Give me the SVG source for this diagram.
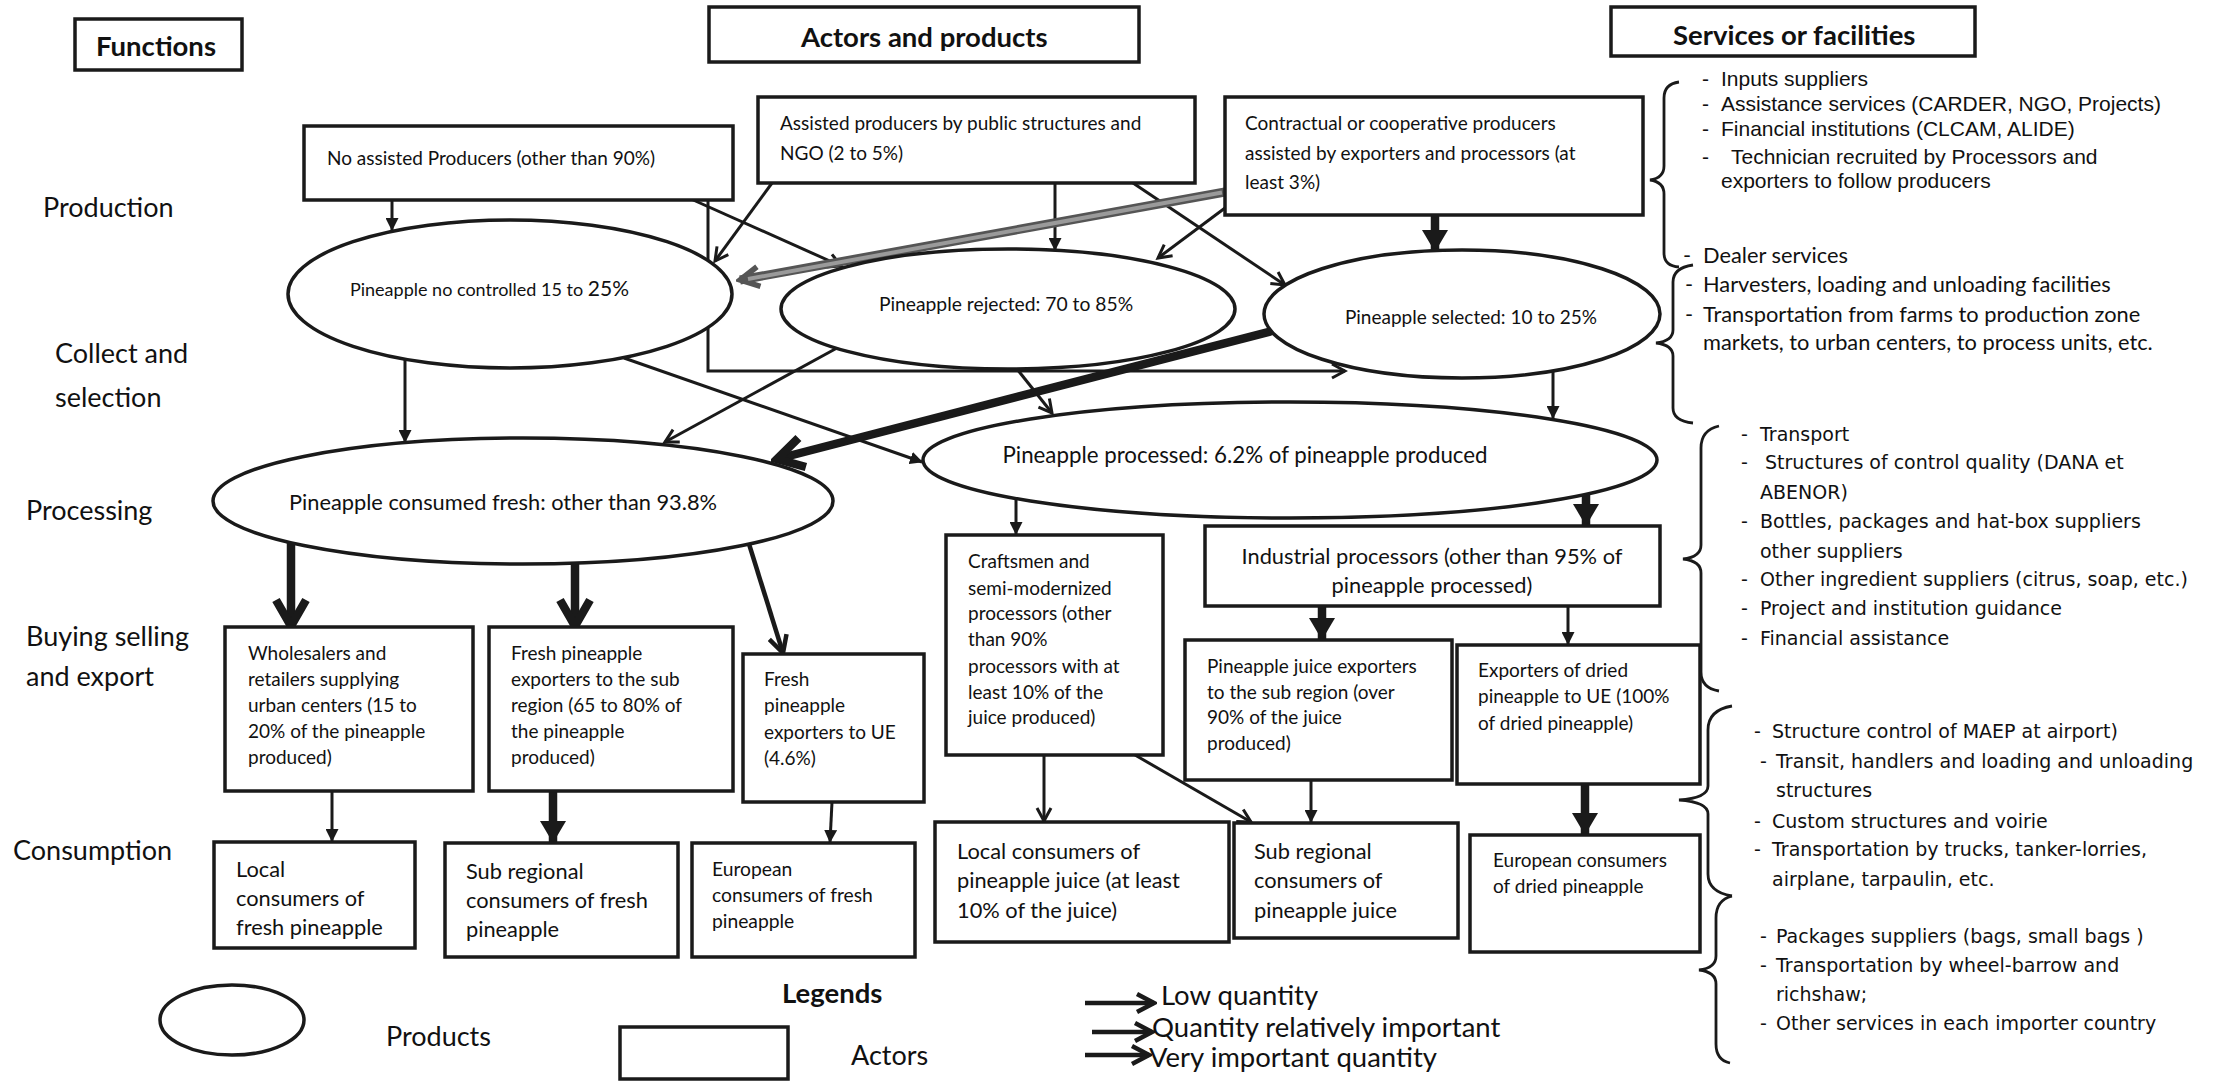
<svg xmlns="http://www.w3.org/2000/svg" width="2223" height="1082" viewBox="0 0 2223 1082">
<style>
.bg{fill:#fff}
.box{fill:#fff;stroke:#1a1a1a;stroke-width:3.5}
.ell{fill:#fff;stroke:#1a1a1a;stroke-width:3.5}
.br{fill:none;stroke:#1a1a1a;stroke-width:2.8}
.c{fill:none;stroke:#1a1a1a;stroke-width:3}
.m{stroke-width:4.5}
.k{stroke-width:8.5}
.gd{stroke:#555;stroke-width:9}
.gl{fill:none;stroke:#9a9a9a;stroke-width:4}
.t{font-family:Lato,"Liberation Sans",sans-serif;fill:#111}
.h{font-family:Lato,"Liberation Sans",sans-serif;font-weight:bold;font-size:27.5px;fill:#111}
.f{font-size:27px}
.fl{font-size:27.5px}
.s18{font-size:18px}
.s19{font-size:19px}
.s193{font-size:19.3px}
.s21{font-size:21px}
.s22{font-size:21.8px}
.s223{font-size:22.3px}
.a{font-family:"Liberation Sans",Arial,sans-serif;font-size:21px;fill:#111}
.v{font-family:"DejaVu Sans",Verdana,sans-serif;font-size:19px;fill:#111}
.mid{text-anchor:middle}
</style>
<defs>
<marker id="tri" viewBox="0 0 13 13" markerWidth="13" markerHeight="13" refX="12" refY="6.5" orient="auto" markerUnits="userSpaceOnUse"><path d="M0,0 L13,6.5 L0,13 Z" fill="#1a1a1a"/></marker>
<marker id="triL" viewBox="0 0 22 26" markerWidth="22" markerHeight="26" refX="21" refY="13" orient="auto" markerUnits="userSpaceOnUse"><path d="M0,0 L22,13 L0,26 Z" fill="#1a1a1a"/></marker>
<marker id="chev" viewBox="0 0 18 18" markerWidth="18" markerHeight="18" refX="15" refY="9" orient="auto" markerUnits="userSpaceOnUse"><path d="M2,2 L15,9 L2,16" fill="none" stroke="#1a1a1a" stroke-width="3"/></marker>
<marker id="chevM" viewBox="0 0 22 22" markerWidth="22" markerHeight="22" refX="19" refY="11" orient="auto" markerUnits="userSpaceOnUse"><path d="M2,2 L19,11 L2,20" fill="none" stroke="#1a1a1a" stroke-width="4.5"/></marker>
<marker id="chevL" viewBox="0 0 36 38" markerWidth="36" markerHeight="38" refX="30" refY="19" orient="auto" markerUnits="userSpaceOnUse"><path d="M4,4 L30,19 L4,34" fill="none" stroke="#1a1a1a" stroke-width="8.5"/></marker>
<marker id="chevG" viewBox="0 0 26 26" markerWidth="26" markerHeight="26" refX="22" refY="13" orient="auto" markerUnits="userSpaceOnUse"><path d="M3,3 L22,13 L3,23" fill="none" stroke="#555" stroke-width="5.5"/></marker>
</defs>
<rect class="bg" x="0" y="0" width="2223" height="1082"/>

<g id="headers">
<g id="h-functions"><rect class="box" x="75" y="19" width="167" height="51"/><text class="h" x="96" y="56">Functions</text></g>
<g id="h-actors"><rect class="box" x="709" y="7" width="430" height="55"/><text class="h" x="801" y="47">Actors and products</text></g>
<g id="h-services"><rect class="box" x="1611" y="7" width="364" height="49"/><text class="h" x="1673" y="45">Services or facilities</text></g>
</g>

<g id="function-labels">
<text class="t f" x="43" y="217">Production</text>
<text class="t f" x="55" y="363">Collect and</text>
<text class="t f" x="55" y="407">selection</text>
<text class="t f" x="26" y="520">Processing</text>
<text class="t f" x="26" y="646">Buying selling</text>
<text class="t f" x="26" y="686">and export</text>
<text class="t f" x="13" y="860">Consumption</text>
</g>

<g id="connectors">
<path class="c" d="M392,200 L392,230" marker-end="url(#tri)"/>
<path class="c" d="M691,199 L841,266" marker-end="url(#chev)"/>
<path class="c" d="M708,200 L708,371 L1345,371" marker-end="url(#chev)"/>
<path class="c" d="M772,183 L715,261" marker-end="url(#chev)"/>
<path class="c" d="M1055,183 L1055,250" marker-end="url(#tri)"/>
<path class="c" d="M1133,183 L1285,285" marker-end="url(#chev)"/>
<path class="c gd" d="M1225,192 L740,280" marker-end="url(#chevG)"/>
<path class="gl" d="M1222,192.5 L748,279"/>
<path class="c" d="M1225,208 L1158,258" marker-end="url(#chev)"/>
<path class="c k" d="M1435,215 L1435,251" marker-end="url(#triL)"/>
<path class="c" d="M405,359 L405,442" marker-end="url(#tri)"/>
<path class="c" d="M624,358 L922,462" marker-end="url(#tri)"/>
<path class="c" d="M837,348 L665,442" marker-end="url(#chev)"/>
<path class="c" d="M1017,369 L1052,413" marker-end="url(#chev)"/>
<path class="c k" d="M1272,331 L777,459" marker-end="url(#chevL)"/>
<path class="c" d="M1553,371 L1553,418" marker-end="url(#tri)"/>
<path class="c k" d="M291,543 L291,626" marker-end="url(#chevL)"/>
<path class="c k" d="M575,563 L575,626" marker-end="url(#chevL)"/>
<path class="c m" d="M749,544 L783,653" marker-end="url(#chevM)"/>
<path class="c" d="M1016,499 L1016,534" marker-end="url(#tri)"/>
<path class="c k" d="M1586,494 L1586,525" marker-end="url(#triL)"/>
<path class="c k" d="M1322,606 L1322,639" marker-end="url(#triL)"/>
<path class="c" d="M1568,606 L1568,644" marker-end="url(#tri)"/>
<path class="c" d="M332,791 L332,841" marker-end="url(#tri)"/>
<path class="c k" d="M553,791 L553,842" marker-end="url(#triL)"/>
<path class="c" d="M832,802 L830,842" marker-end="url(#tri)"/>
<path class="c" d="M1044,755 L1044,821" marker-end="url(#chev)"/>
<path class="c" d="M1135,755 L1251,822" marker-end="url(#chev)"/>
<path class="c" d="M1311,780 L1311,822" marker-end="url(#tri)"/>
<path class="c k" d="M1585,784 L1585,834" marker-end="url(#triL)"/>
</g>

<g id="n-noassisted"><rect class="box" x="304" y="126" width="429" height="74"/><text class="t s19" x="327" y="165">No assisted Producers (other than 90%)</text></g>
<g id="n-assisted"><rect class="box" x="758" y="97" width="437" height="86"/><text class="t s19"><tspan x="780" y="130">Assisted producers by public structures and</tspan><tspan x="780" y="160">NGO (2 to 5%)</tspan></text></g>
<g id="n-contractual"><rect class="box" x="1225" y="97" width="418" height="118"/><text class="t s19"><tspan x="1245" y="130">Contractual or cooperative producers</tspan><tspan x="1245" y="160">assisted by exporters and processors (at</tspan><tspan x="1245" y="189">least 3%)</tspan></text></g>

<g id="n-nocontrolled"><ellipse class="ell" cx="510" cy="294" rx="222" ry="74"/><text class="t s18" x="350" y="296">Pineapple no controlled 15 to <tspan class="s21">25%</tspan></text></g>
<g id="n-rejected"><ellipse class="ell" cx="1008" cy="309" rx="227" ry="60"/><text class="t s193 mid" x="1006" y="311">Pineapple rejected: 70 to 85%</text></g>
<g id="n-selected"><ellipse class="ell" cx="1462" cy="314" rx="198" ry="64"/><text class="t s19 mid" x="1471" y="324">Pineapple selected: 10 to 25%</text></g>
<g id="n-fresh"><ellipse class="ell" cx="523" cy="501" rx="310" ry="63"/><text class="t s22 mid" x="503" y="510">Pineapple consumed fresh: other than 93.8%</text></g>
<g id="n-processed"><ellipse class="ell" cx="1290" cy="460" rx="367" ry="58"/><text class="t s223 mid" x="1245" y="463">Pineapple processed: 6.2% of pineapple produced</text></g>

<g id="n-wholesalers"><rect class="box" x="225" y="627" width="248" height="164"/><text class="t s19"><tspan x="248" y="660">Wholesalers and</tspan><tspan x="248" y="686">retailers supplying</tspan><tspan x="248" y="712">urban centers (15 to</tspan><tspan x="248" y="738">20% of the pineapple</tspan><tspan x="248" y="764">produced)</tspan></text></g>
<g id="n-freshsub"><rect class="box" x="489" y="627" width="244" height="164"/><text class="t s19"><tspan x="511" y="660">Fresh pineapple</tspan><tspan x="511" y="686">exporters to the sub</tspan><tspan x="511" y="712">region (65 to 80% of</tspan><tspan x="511" y="738">the pineapple</tspan><tspan x="511" y="764">produced)</tspan></text></g>
<g id="n-freshue"><rect class="box" x="743" y="654" width="181" height="148"/><text class="t s19"><tspan x="764" y="686">Fresh</tspan><tspan x="764" y="712">pineapple</tspan><tspan x="764" y="739">exporters to UE</tspan><tspan x="764" y="765">(4.6%)</tspan></text></g>
<g id="n-craftsmen"><rect class="box" x="946" y="535" width="217" height="220"/><text class="t s19"><tspan x="968" y="568">Craftsmen and</tspan><tspan x="968" y="595">semi-modernized</tspan><tspan x="968" y="620">processors (other</tspan><tspan x="968" y="646">than 90%</tspan><tspan x="968" y="673">processors with at</tspan><tspan x="968" y="699">least 10% of the</tspan><tspan x="968" y="724">juice produced)</tspan></text></g>
<g id="n-industrial"><rect class="box" x="1205" y="526" width="455" height="80"/><text class="t s22 mid"><tspan x="1432" y="564">Industrial processors (other than 95% of</tspan><tspan x="1432" y="593">pineapple processed)</tspan></text></g>
<g id="n-juiceexp"><rect class="box" x="1185" y="640" width="267" height="140"/><text class="t s19"><tspan x="1207" y="673">Pineapple juice exporters</tspan><tspan x="1207" y="699">to the sub region (over</tspan><tspan x="1207" y="724">90% of the juice</tspan><tspan x="1207" y="750">produced)</tspan></text></g>
<g id="n-driedexp"><rect class="box" x="1457" y="645" width="243" height="139"/><text class="t s19"><tspan x="1478" y="677">Exporters of dried</tspan><tspan x="1478" y="703">pineapple to UE (100%</tspan><tspan x="1478" y="730">of dried pineapple)</tspan></text></g>

<g id="n-localfresh"><rect class="box" x="214" y="842" width="201" height="106"/><text class="t s22"><tspan x="236" y="877">Local</tspan><tspan x="236" y="906">consumers of</tspan><tspan x="236" y="935">fresh pineapple</tspan></text></g>
<g id="n-subfresh"><rect class="box" x="445" y="843" width="233" height="114"/><text class="t s22"><tspan x="466" y="879">Sub regional</tspan><tspan x="466" y="908">consumers of fresh</tspan><tspan x="466" y="937">pineapple</tspan></text></g>
<g id="n-eufresh"><rect class="box" x="692" y="843" width="223" height="114"/><text class="t s193"><tspan x="712" y="876">European</tspan><tspan x="712" y="902">consumers of fresh</tspan><tspan x="712" y="928">pineapple</tspan></text></g>
<g id="n-localjuice"><rect class="box" x="935" y="822" width="294" height="120"/><text class="t s22"><tspan x="957" y="859">Local consumers of</tspan><tspan x="957" y="888">pineapple juice (at least</tspan><tspan x="957" y="918">10% of the juice)</tspan></text></g>
<g id="n-subjuice"><rect class="box" x="1234" y="823" width="224" height="115"/><text class="t s22"><tspan x="1254" y="859">Sub regional</tspan><tspan x="1254" y="888">consumers of</tspan><tspan x="1254" y="918">pineapple juice</tspan></text></g>
<g id="n-eudried"><rect class="box" x="1470" y="835" width="230" height="117"/><text class="t s19"><tspan x="1493" y="867">European consumers</tspan><tspan x="1493" y="893">of dried pineapple</tspan></text></g>

<g id="services">
<path class="br" d="M1679,82 Q1664,84 1664,98 L1664,166 Q1664,178 1650,180 Q1664,182 1664,194 L1664,253 Q1664,266 1679,267"/>
<text class="a"><tspan x="1702" y="86">-</tspan><tspan x="1721" y="86">Inputs suppliers</tspan></text>
<text class="a"><tspan x="1702" y="111">-</tspan><tspan x="1721" y="111">Assistance services (CARDER, NGO, Projects)</tspan></text>
<text class="a"><tspan x="1702" y="136">-</tspan><tspan x="1721" y="136">Financial institutions (CLCAM, ALIDE)</tspan></text>
<text class="a"><tspan x="1702" y="164">-</tspan><tspan x="1731" y="164">Technician recruited by Processors and</tspan></text>
<text class="a" x="1721" y="188">exporters to follow producers</text>

<path class="br" d="M1693,265 Q1673,268 1673,282 L1673,330 Q1673,341 1656,343 Q1673,345 1673,356 L1673,408 Q1673,421 1693,423"/>
<text class="t s22"><tspan x="1683" y="263">-</tspan><tspan x="1703" y="263">Dealer services</tspan></text>
<text class="t s22"><tspan x="1685" y="292">-</tspan><tspan x="1703" y="292">Harvesters, loading and unloading facilities</tspan></text>
<text class="t s22"><tspan x="1685" y="322">-</tspan><tspan x="1703" y="322">Transportation from farms to production zone</tspan></text>
<text class="t s22" x="1703" y="350">markets, to urban centers, to process units, etc.</text>

<path class="br" d="M1719,426 Q1701,430 1701,448 L1701,545 Q1701,557 1683,559 Q1701,561 1701,573 L1701,672 Q1701,688 1719,691"/>
<text class="v"><tspan x="1741" y="441">-</tspan><tspan x="1760" y="441">Transport</tspan></text>
<text class="v"><tspan x="1741" y="469">-</tspan><tspan x="1765" y="469">Structures of control quality  (DANA et</tspan></text>
<text class="v" x="1760" y="499">ABENOR)</text>
<text class="v"><tspan x="1741" y="528">-</tspan><tspan x="1760" y="528">Bottles, packages and hat-box suppliers</tspan></text>
<text class="v" x="1760" y="558">other suppliers</text>
<text class="v"><tspan x="1741" y="586">-</tspan><tspan x="1760" y="586">Other ingredient suppliers (citrus, soap, etc.)</tspan></text>
<text class="v"><tspan x="1741" y="615">-</tspan><tspan x="1760" y="615">Project and institution guidance</tspan></text>
<text class="v"><tspan x="1741" y="645">-</tspan><tspan x="1760" y="645">Financial assistance</tspan></text>

<path class="br" d="M1732,706 Q1708,710 1708,730 L1708,786 Q1708,798 1679,800 Q1708,802 1708,814 L1708,874 Q1708,892 1732,896"/>
<path class="br" d="M1732,896 Q1716,900 1716,918 L1716,956 Q1716,968 1699,970 Q1716,972 1716,984 L1716,1044 Q1716,1060 1730,1063"/>
<text class="v"><tspan x="1754" y="738">-</tspan><tspan x="1772" y="738">Structure control of MAEP at airport)</tspan></text>
<text class="v"><tspan x="1760" y="768">-</tspan><tspan x="1776" y="768">Transit, handlers and loading and unloading</tspan></text>
<text class="v" x="1776" y="797">structures</text>
<text class="v"><tspan x="1754" y="828">-</tspan><tspan x="1772" y="828">Custom structures and  voirie</tspan></text>
<text class="v"><tspan x="1754" y="856">-</tspan><tspan x="1772" y="856">Transportation by trucks, tanker-lorries,</tspan></text>
<text class="v" x="1772" y="886">airplane, tarpaulin, etc.</text>
<text class="v"><tspan x="1760" y="943">-</tspan><tspan x="1776" y="943">Packages suppliers (bags, small bags )</tspan></text>
<text class="v"><tspan x="1760" y="972">-</tspan><tspan x="1776" y="972">Transportation by wheel-barrow and</tspan></text>
<text class="v" x="1776" y="1001">richshaw;</text>
<text class="v"><tspan x="1760" y="1030">-</tspan><tspan x="1776" y="1030">Other services in each importer country</tspan></text>
</g>

<g id="legend">
<ellipse class="ell" cx="232" cy="1020" rx="72" ry="35"/>
<text class="t f" x="386" y="1046">Products</text>
<text class="h" x="782" y="1003">Legends</text>
<rect class="box" x="620" y="1027" width="168" height="52"/>
<text class="t f" x="851" y="1065">Actors</text>
<path class="c m" d="M1085,1003 L1154,1003" marker-end="url(#chevM)"/>
<text class="t fl" x="1161" y="1005">Low quantity</text>
<path class="c m" d="M1092,1032 L1152,1032" marker-end="url(#chevM)"/>
<text class="t fl" x="1152" y="1037">Quantity relatively important</text>
<path class="c m" d="M1085,1055 L1149,1055" marker-end="url(#chevM)"/>
<text class="t fl" x="1149" y="1067">Very important quantity</text>
</g>
</svg>
